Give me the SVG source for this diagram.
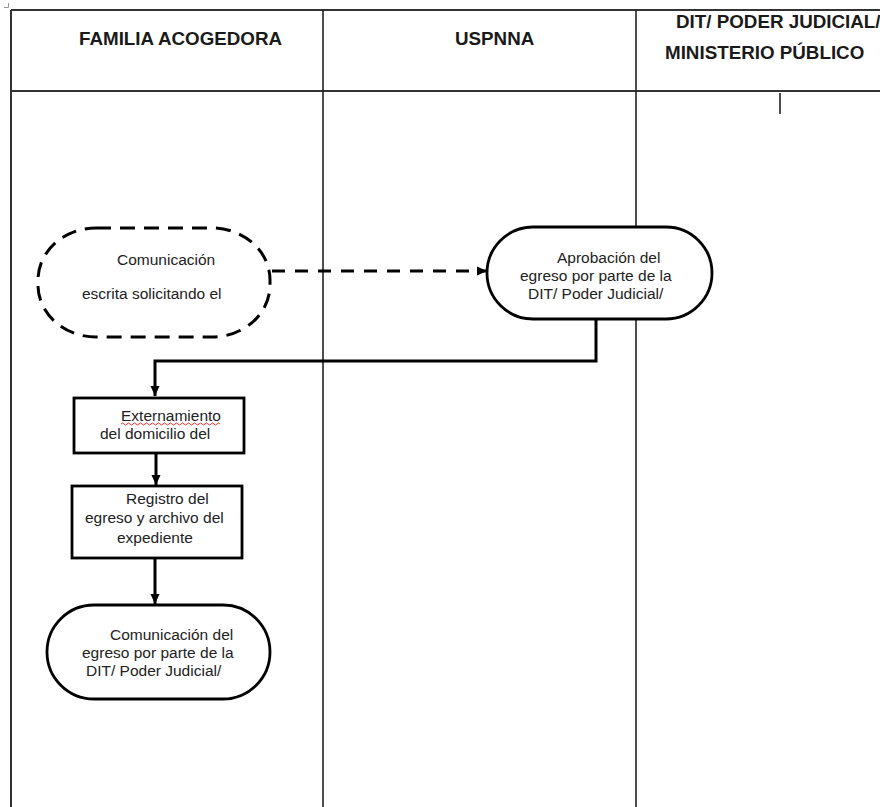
<svg xmlns="http://www.w3.org/2000/svg" width="880" height="807" viewBox="0 0 880 807">
<style>
.grid{stroke:#333;stroke-width:2;fill:none}
.col{stroke:#222;stroke-width:1.6;fill:none}
.hdr{font-family:"Liberation Sans",Arial,sans-serif;font-weight:bold;font-size:18.8px;fill:#1a1a1a}
.txt{font-family:"Liberation Sans",Arial,sans-serif;font-size:15.5px;fill:#222}
.shape{fill:#fff;stroke:#000;stroke-width:2.8}
.dashed{fill:#fff;stroke:#000;stroke-width:3;stroke-dasharray:15 9}
.conn{fill:none;stroke:#000;stroke-width:3}
.dconn{fill:none;stroke:#000;stroke-width:3;stroke-dasharray:13 10}
</style>
<defs>
<marker id="ah" markerUnits="userSpaceOnUse" markerWidth="12" markerHeight="12" viewBox="0 0 12 12" refX="11" refY="6" orient="auto">
<path d="M1,1.5 L11,6 L1,10.5 Z" fill="#000"/>
</marker>
</defs>
<rect width="880" height="807" fill="#fff"/>
<g id="table">
<path d="M4,7.5 H8.5 V3" stroke="#999" stroke-width="1" fill="none"/>
<path class="grid" d="M11,10 H880 M11,10 V807 M11,91 H880"/>
<path class="col" d="M323,10 V807 M636,10 V807 M780,93 V114"/>
<text class="hdr" x="79" y="45">FAMILIA ACOGEDORA</text>
<text class="hdr" x="455" y="45">USPNNA</text>
<text class="hdr" x="676" y="28">DIT/ PODER JUDICIAL/</text>
<text class="hdr" x="665" y="59">MINISTERIO PÚBLICO</text>
</g>
<g id="connectors">
<path class="dconn" d="M272,271 H487" marker-end="url(#ah)"/>
<path class="conn" d="M596,319 V361 H155 V396" marker-end="url(#ah)"/>
<path class="conn" d="M156,453 V485" marker-end="url(#ah)"/>
<path class="conn" d="M155,558 V604" marker-end="url(#ah)"/>
</g>
<g id="n1">
<rect class="dashed" x="38" y="228" width="232" height="109" rx="58" ry="52"/>
<text class="txt" x="117" y="265">Comunicación</text>
<text class="txt" x="82" y="299">escrita solicitando el</text>
</g>
<g id="n2">
<rect class="shape" x="487" y="227" width="225" height="92" rx="46" ry="46"/>
<text class="txt" x="557" y="263">Aprobación del</text>
<text class="txt" x="520" y="281">egreso por parte de la</text>
<text class="txt" x="528" y="299">DIT/ Poder Judicial/</text>
</g>
<g id="n3">
<rect class="shape" x="74" y="398" width="170" height="55"/>
<text class="txt" x="121" y="421">Externamiento</text>
<path d="M121,424 q1.5,-2 3,0 t3,0 t3,0 t3,0 t3,0 t3,0 t3,0 t3,0 t3,0 t3,0 t3,0 t3,0 t3,0 t3,0 t3,0 t3,0 t3,0 t3,0 t3,0 t3,0 t3,0 t3,0 t3,0 t3,0 t3,0 t3,0 t3,0 t3,0 t3,0 t3,0 t3,0 t3,0 t3,0" fill="none" stroke="#e33" stroke-width="1"/>
<text class="txt" x="100" y="439">del domicilio del</text>
</g>
<g id="n4">
<rect class="shape" x="72" y="486" width="170" height="72"/>
<text class="txt" x="126" y="504">Registro del</text>
<text class="txt" x="85" y="523">egreso y archivo del</text>
<text class="txt" x="117" y="543">expediente</text>
</g>
<g id="n5">
<rect class="shape" x="47" y="605" width="223" height="94" rx="47" ry="47"/>
<text class="txt" x="110" y="640">Comunicación del</text>
<text class="txt" x="82" y="658">egreso por parte de la</text>
<text class="txt" x="86" y="676">DIT/ Poder Judicial/</text>
</g>
</svg>
